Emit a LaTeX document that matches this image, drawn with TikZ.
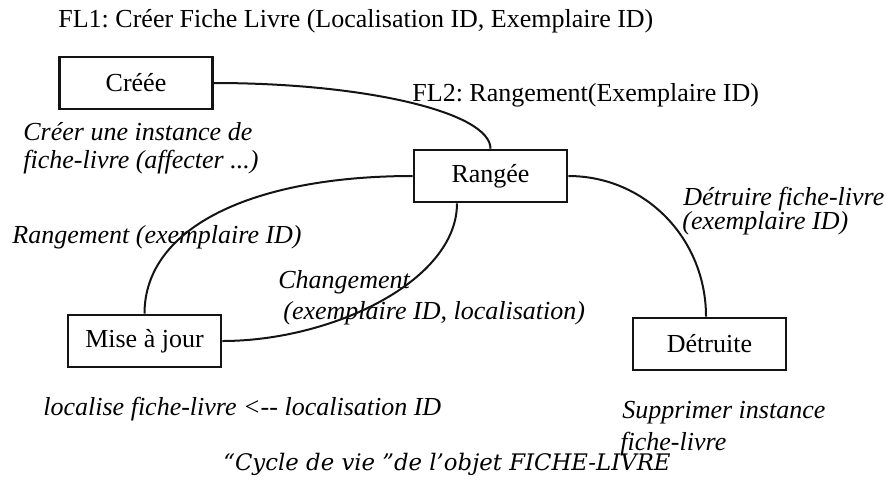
\documentclass[tikz,border=0pt]{standalone}
\usepackage{fontspec}
\setmainfont{Liberation Serif}
\newfontfamily\capfont{DejaVu Serif}
\usepackage{xcolor}
\definecolor{lineblack}{RGB}{20,20,20}
\frenchspacing

\begin{document}
\begin{tikzpicture}[
  x=0.5pt, y=-0.5pt,
  state/.style={rectangle, draw=lineblack, line width=1.3pt, minimum width=76.5pt, minimum height=26pt, inner sep=0pt, font=\fontsize{13}{15}\selectfont},
  txt/.style={anchor=base west, inner sep=0pt, font=\fontsize{13}{15}\selectfont},
  itxt/.style={txt, font=\fontsize{13}{15}\selectfont\itshape},
  trans/.style={draw=lineblack, line width=1pt}
]
\useasboundingbox (0,0) rectangle (886,494);

\node[state] (creee) at (136,83) {Créée};
\node[state] (rangee) at (490.5,176) {Rangée};
\node[state] (maj) at (144.5,341) {Mise à jour};
\node[state] (detruite) at (709.5,344) {Détruite};

\node[txt] (fl1) at (58,27) {FL1: Créer Fiche Livre (Localisation ID, Exemplaire ID)};
\node[txt] (fl2) at (412,101) {FL2: Rangement(Exemplaire ID)};
\node[itxt] (creer1) at (23,140) {Créer une instance de};
\node[itxt] (creer2) at (23,168) {fiche-livre (affecter ...)};
\node[itxt] (rang) at (12,243) {Rangement (exemplaire ID)};
\node[itxt] (chg1) at (278,288) {Changement};
\node[itxt] (chg2) at (283,319) {(exemplaire ID, localisation)};
\node[itxt] (detr1) at (683,205) {Détruire fiche-livre};
\node[itxt] (detr2) at (682,229) {(exemplaire ID)};
\node[itxt] (loc) at (43,415) {localise fiche-livre <-\kern0pt- localisation ID};
\node[itxt] (supp1) at (622,418) {Supprimer instance};
\node[itxt] (supp2) at (620,450) {fiche-livre};
\node[txt, font=\capfont\fontsize{11.4}{13}\selectfont\itshape] (titre) at (223,470) {“Cycle de vie ”de l’objet FICHE-LIVRE};

\draw[trans] (creee.east) .. controls +(153,0) and +(0,-36) .. (rangee.north);
\draw[trans] (maj.north) .. controls +(0,-87) and +(-159,0) .. (rangee.west);
\draw[trans] ([xshift=-16.75pt]rangee.south) .. controls +(0,78) and +(109,0) .. (maj.east);
\draw[trans] (rangee.east) .. controls +(77,0) and +(0,-78) .. ([xshift=-1.75pt]detruite.north);
\end{tikzpicture}
\end{document}
